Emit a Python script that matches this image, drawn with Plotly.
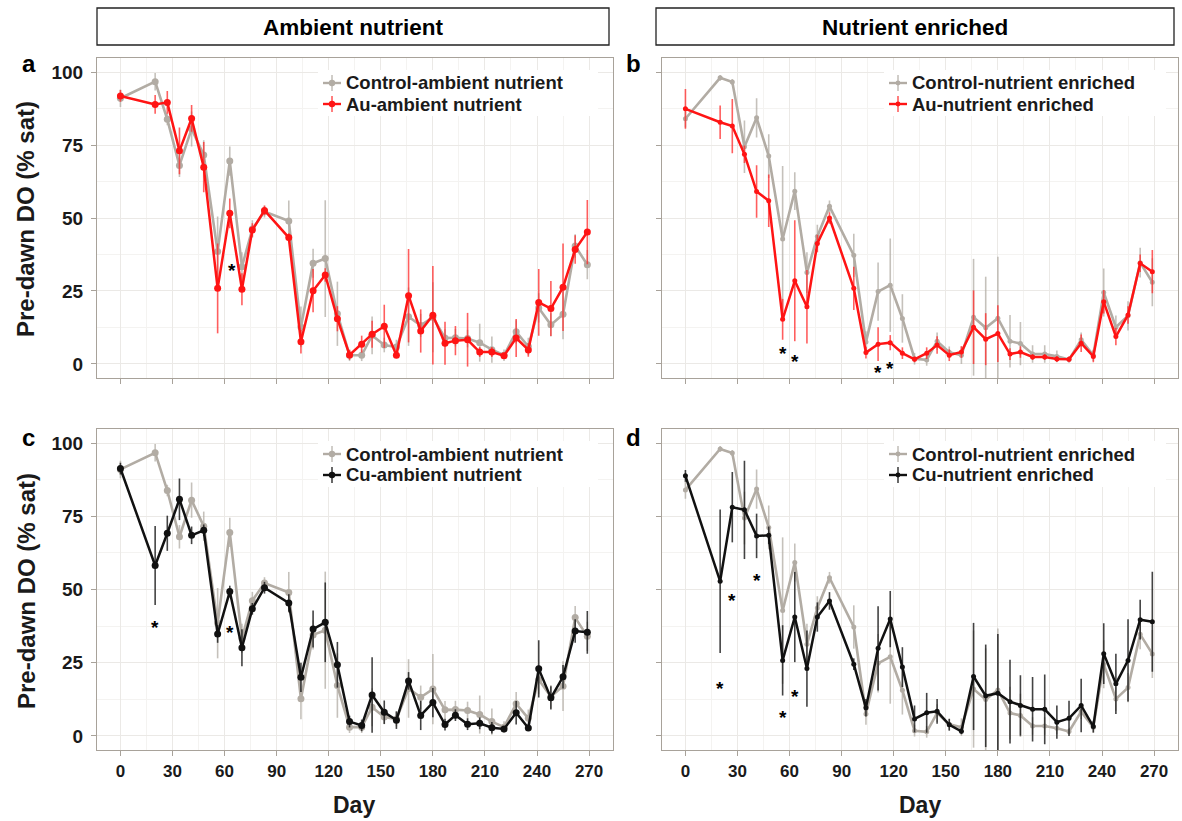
import plotly.graph_objects as go

# Sampling days (shared by all four panels)
days = [0, 20, 27, 34, 41, 48, 56, 63, 70, 76, 83, 97, 104, 111, 118, 125, 132,
        139, 145, 152, 159, 166, 173, 180, 187, 193, 200, 207, 214, 221, 228,
        235, 241, 248, 255, 262, 269]

# Ambient nutrient treatments (mean and error)
ctrl_ambient = [91, 96.7, 83.8, 68, 80.5, 71.6, 38.5, 69.5, 33.3, 46.2, 52.2, 49,
                12.7, 34.5, 36.1, 17.2, 3, 3, 9.8, 6.5, 5.8, 16.2, 13.2, 16, 8.9,
                9, 8.7, 7.3, 4.9, 3, 11, 6, 19.2, 13.4, 17, 40.4, 34]
ctrl_ambient_err = [3, 3, 2, 4, 6, 5, 12, 5, 5, 3, 2, 7, 7, 5, 20, 11, 2, 2, 6.5,
                    2.5, 2.5, 10, 4, 12, 3, 3, 3, 6.5, 4.5, 2, 4, 3, 5, 4, 8.5, 4, 5]
au_ambient = [91.8, 88.9, 89.6, 73, 84.1, 67.4, 25.9, 51.6, 25.6, 45.9, 52.6, 43.3,
              7.6, 25.1, 30.5, 15.5, 3.1, 6.8, 10.2, 12.9, 3, 23.4, 11.3, 16.7, 7.1,
              8, 8.3, 4.1, 4.1, 2.8, 8.9, 4.8, 21.1, 19, 26.3, 39.2, 45.2]
au_ambient_err = [2, 3.2, 3.9, 8, 4.6, 8.6, 15.4, 5.1, 5.5, 2.3, 1.7, 1.5, 4, 7.4,
                  2.3, 4.3, 1.7, 2.9, 4.6, 7.4, 1, 16, 7.4, 16.9, 7.4, 5, 9.2, 1.7,
                  1.7, 1, 6.5, 2.3, 11.4, 9.4, 15, 4.9, 11]
cu_ambient = [91.3, 58.2, 69.2, 80.8, 68.5, 70.2, 34.8, 49.3, 30.1, 43.4, 50.6, 45.4,
              20, 36.5, 38.8, 24.3, 4.9, 3.6, 14, 8.1, 5.4, 18.8, 7, 11.4, 3.9, 7.1,
              4, 4.3, 2.8, 2.4, 7.9, 2.7, 22.9, 13, 20.2, 35.8, 35.4]
cu_ambient_err = [2, 13.5, 6, 7.1, 3, 2, 3, 2, 6.3, 2, 2, 3, 5, 6.3, 13.6, 7.8, 2, 2,
                  12.9, 4, 3, 3, 5, 5, 2, 2, 2, 2, 2, 1, 4, 1, 9.8, 4, 4, 4, 7.3]

# Nutrient enriched treatments (mean and error)
ctrl_enriched = [84, 98, 96.6, 74.4, 84.3, 71.2, 42.8, 59.2, 31.3, 43.7, 54, 37.2,
                 7.5, 24.8, 27, 15.6, 1.8, 1.4, 7.8, 4, 3, 16, 12.4, 15.7, 7.8, 7,
                 3.4, 3.4, 2.6, 1.5, 8.3, 3, 24.5, 12.6, 16.5, 34.7, 28]
ctrl_enriched_err = [3, 1, 1, 9, 6.7, 7.5, 25, 6.5, 7, 4, 2, 7.4, 3.7, 10, 16, 8.3,
                     2, 2, 3, 2, 3, 20, 17.5, 21, 9, 7.4, 3, 3, 2, 1, 2.5, 2, 8.2, 4,
                     5, 5.1, 8.2]
au_enriched = [87.4, 82.8, 81.5, 71.8, 59.1, 55.9, 15.3, 28.5, 19.6, 41.3, 50, 25.9,
               3.9, 6.8, 7.3, 3.7, 1.6, 3.7, 6.5, 3, 4.1, 12.6, 8.5, 10.4, 3.4, 4.1,
               2.4, 2.4, 1.7, 1.6, 7.1, 2.6, 21.3, 9.4, 16.8, 34.5, 31.6]
au_enriched_err = [6.8, 5.7, 9.3, 3, 9, 9, 7, 20.7, 12.6, 3, 2, 7.4, 2, 5.8, 2.6, 2,
                   1, 2, 3, 2, 2, 12.6, 8.9, 9.7, 2, 2, 1, 1, 1, 1, 3, 2, 4, 3, 3, 3,
                   7.4]
cu_enriched = [88.8, 52.8, 78.1, 77.2, 68.3, 68.5, 25.8, 40.6, 23, 40.6, 46.1, 24.5,
               9.6, 29.9, 39.9, 23.5, 5.8, 7.9, 8.4, 3.8, 1.6, 20.3, 13.7, 14.6,
               11.7, 10.4, 9.1, 9.1, 4.7, 6, 10.4, 3.2, 28.1, 17.8, 25.8, 39.7, 39]
cu_enriched_err = [2, 24.5, 12, 16.8, 7.6, 3, 12, 15.4, 13, 5, 3, 2, 3, 14.4, 9.6,
                   6.8, 4.6, 6.8, 4.2, 2, 1, 18.3, 17.5, 20.2, 14.3, 10.3, 11, 11.9,
                   5.7, 6, 9.1, 2, 10.4, 10.3, 14, 6.8, 17.1]

# Significance marks (day, y position) per panel
sig_a = [(64, 33.6)]
sig_b = [(56, 5.4), (63, 2.5), (111, -1.1), (118, 0)]
sig_c = [(20, 38.8), (63, 37)]
sig_d = [(20, 17.8), (27, 48), (41, 54.8), (56, 8), (63, 15.3)]

x_ticks = [0, 30, 60, 90, 120, 150, 180, 210, 240, 270]
y_ticks = [0, 25, 50, 75, 100]

FONT = "Liberation Sans, Arial, sans-serif"
TXT = "#1a1a1a"
GREY = "#b2aca4"
GREY_ERR = "rgba(178,172,164,0.75)"
RED = "#ff1414"
RED_ERR = "rgba(255,40,40,0.75)"
BLACK = "#111111"
BLACK_ERR = "rgba(20,20,20,0.8)"
FRAME = "#a8a29a"

W, H = 1182, 821
X_LEFT = [97 / W, 612.5 / W]
X_RIGHT = [662 / W, 1177.5 / W]
Y_TOP = [1 - 378 / H, 1 - 58 / H]
Y_BOT = [1 - 750 / H, 1 - 429 / H]
KEY_ROW_GAP = 21


def px(x):
    return x / W


def py(y):
    return 1 - y / H


panels = [
    dict(n="", xd=X_LEFT, yd=Y_TOP, ctrl=ctrl_ambient, ctrl_err=ctrl_ambient_err,
         trt=au_ambient, trt_err=au_ambient_err, c_name="Control-ambient nutrient",
         t_name="Au-ambient nutrient", color=RED, ecolor=RED_ERR, msize=7,
         letter="a", sig=sig_a, leg=(318, 598, 83), ylab=True, xlab=False),
    dict(n="2", xd=X_RIGHT, yd=Y_TOP, ctrl=ctrl_enriched, ctrl_err=ctrl_enriched_err,
         trt=au_enriched, trt_err=au_enriched_err, c_name="Control-nutrient enriched",
         t_name="Au-nutrient enriched", color=RED, ecolor=RED_ERR, msize=5,
         letter="b", sig=sig_b, leg=(884, 1166, 83), ylab=False, xlab=False),
    dict(n="3", xd=X_LEFT, yd=Y_BOT, ctrl=ctrl_ambient, ctrl_err=ctrl_ambient_err,
         trt=cu_ambient, trt_err=cu_ambient_err, c_name="Control-ambient nutrient",
         t_name="Cu-ambient nutrient", color=BLACK, ecolor=BLACK_ERR, msize=7,
         letter="c", sig=sig_c, leg=(318, 598, 454), ylab=True, xlab=True),
    dict(n="4", xd=X_RIGHT, yd=Y_BOT, ctrl=ctrl_enriched, ctrl_err=ctrl_enriched_err,
         trt=cu_enriched, trt_err=cu_enriched_err, c_name="Control-nutrient enriched",
         t_name="Cu-nutrient enriched", color=BLACK, ecolor=BLACK_ERR, msize=5,
         letter="d", sig=sig_d, leg=(884, 1166, 454), ylab=False, xlab=True),
]

fig = go.Figure()
layout = dict(width=W, height=H, margin=dict(l=0, r=0, t=0, b=0),
              paper_bgcolor="white", plot_bgcolor="white",
              font=dict(family=FONT, color=TXT), showlegend=False)
annotations = []
shapes = []

for p in panels:
    xa, ya = "x" + p["n"], "y" + p["n"]
    fig.add_trace(go.Scatter(
        x=days, y=p["ctrl"], name=p["c_name"], mode="lines+markers",
        xaxis=xa, yaxis=ya,
        line=dict(color=GREY, width=2.6),
        marker=dict(color=GREY, size=p["msize"]),
        error_y=dict(type="data", array=p["ctrl_err"], color=GREY_ERR,
                     thickness=1.6, width=0)))
    fig.add_trace(go.Scatter(
        x=days, y=p["trt"], name=p["t_name"], mode="lines+markers",
        xaxis=xa, yaxis=ya,
        line=dict(color=p["color"], width=2.5),
        marker=dict(color=p["color"], size=p["msize"]),
        error_y=dict(type="data", array=p["trt_err"], color=p["ecolor"],
                     thickness=1.6, width=0)))

    key = p["n"]
    layout["xaxis" + key] = dict(
        domain=p["xd"], anchor=ya, range=[-13.5, 283.5], tickvals=x_ticks,
        showticklabels=p["xlab"], ticks="outside", ticklen=5, tickwidth=1,
        tickcolor=FRAME, showline=True, linecolor=FRAME, linewidth=1.2, mirror=True,
        showgrid=True, gridcolor="#ebe9e6", gridwidth=1, zeroline=False,
        minor=dict(dtick=15, tick0=15, showgrid=True, gridcolor="#f4f3f1"),
        tickfont=dict(family=FONT, size=17, color=TXT, weight="bold"))
    layout["yaxis" + key] = dict(
        domain=p["yd"], anchor=xa, range=[-4.8, 104.8], tickvals=y_ticks,
        showticklabels=p["ylab"], ticks="outside", ticklen=5, tickwidth=1,
        tickcolor=FRAME, showline=True, linecolor=FRAME, linewidth=1.2, mirror=True,
        showgrid=True, gridcolor="#ebe9e6", gridwidth=1, zeroline=False,
        ticklabelstandoff=4,
        minor=dict(dtick=12.5, tick0=12.5, showgrid=True, gridcolor="#f4f3f1"),
        tickfont=dict(family=FONT, size=19, color=TXT, weight="bold"))

    # in-panel key: white box, line-with-bar glyph and bold label per series
    lx0, lx1, ly = p["leg"]
    shapes.append(dict(type="rect", xref="paper", yref="paper", layer="above",
                       x0=px(lx0), x1=px(lx1), y0=py(ly + KEY_ROW_GAP + 12),
                       y1=py(ly - 13), line=dict(width=0), fillcolor="white"))
    for k, (name, col, ecol) in enumerate([(p["c_name"], GREY, GREY_ERR),
                                           (p["t_name"], p["color"], p["ecolor"])]):
        yy = ly + KEY_ROW_GAP * k
        gx = lx0 + 14
        shapes.append(dict(type="line", xref="paper", yref="paper", layer="above",
                           x0=px(gx - 9), x1=px(gx + 9), y0=py(yy), y1=py(yy),
                           line=dict(color=col, width=2.4)))
        shapes.append(dict(type="line", xref="paper", yref="paper", layer="above",
                           x0=px(gx), x1=px(gx), y0=py(yy - 8), y1=py(yy + 8),
                           line=dict(color=ecol, width=1.6)))
        r = 3.2 if p["msize"] > 5 else 2.4
        shapes.append(dict(type="circle", xref="paper", yref="paper", layer="above",
                           x0=px(gx - r), x1=px(gx + r), y0=py(yy + r), y1=py(yy - r),
                           line=dict(width=0), fillcolor=col))
        annotations.append(dict(
            text="<b>%s</b>" % name, xref="paper", yref="paper",
            x=px(gx + 12), y=py(yy), xanchor="left", yanchor="middle",
            showarrow=False, font=dict(family=FONT, size=18.5, color=TXT)))

    # panel letter
    x_letter = 29 if p["xd"] == X_LEFT else 633
    y_letter = 63 if p["yd"] == Y_TOP else 437
    annotations.append(dict(
        text="<b>%s</b>" % p["letter"], xref="paper", yref="paper",
        x=px(x_letter), y=py(y_letter), xanchor="center", yanchor="middle",
        showarrow=False, font=dict(family=FONT, size=24, color="black")))

    for sx, sy in p["sig"]:
        annotations.append(dict(
            text="<b>*</b>", xref=xa, yref=ya, x=sx, y=sy, showarrow=False,
            xanchor="center", yanchor="middle",
            yshift=-5, font=dict(family=FONT, size=19, color="black")))

# Facet strips
for (x0, x1, label) in [(97, 609, "Ambient nutrient"), (656, 1174, "Nutrient enriched")]:
    shapes.append(dict(type="rect", xref="paper", yref="paper",
                       x0=px(x0), x1=px(x1), y0=py(45), y1=py(8),
                       line=dict(color="#222222", width=1.3), fillcolor="white"))
    annotations.append(dict(text="<b>%s</b>" % label, xref="paper", yref="paper",
                            x=px((x0 + x1) / 2), y=py(27), xanchor="center",
                            yanchor="middle", showarrow=False,
                            font=dict(family=FONT, size=22.5, color="black")))

# Axis titles
for yc in [219, 591]:
    annotations.append(dict(text="<b>Pre-dawn DO (% sat)</b>", xref="paper", yref="paper",
                            x=px(26), y=py(yc), xanchor="center", yanchor="middle",
                            showarrow=False, textangle=-90,
                            font=dict(family=FONT, size=24, color=TXT)))
for xc in [354, 920]:
    annotations.append(dict(text="<b>Day</b>", xref="paper", yref="paper",
                            x=px(xc), y=py(805), xanchor="center", yanchor="middle",
                            showarrow=False,
                            font=dict(family=FONT, size=23, color=TXT)))

layout["annotations"] = annotations
layout["shapes"] = shapes
fig.update_layout(**layout)
fig.write_html("out.html")
